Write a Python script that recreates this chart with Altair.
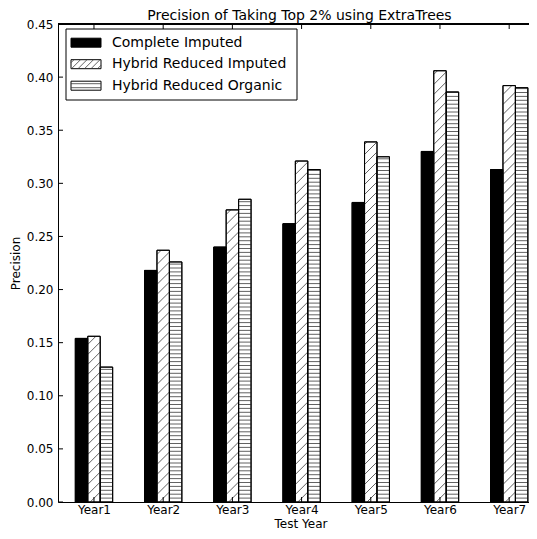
import json
import altair as alt
import pandas as pd

# ---------------- data ----------------
categories = ["Year1", "Year2", "Year3", "Year4", "Year5", "Year6", "Year7"]
series = ["Complete Imputed", "Hybrid Reduced Imputed", "Hybrid Reduced Organic"]
complete_imputed = [0.154, 0.218, 0.240, 0.262, 0.282, 0.330, 0.313]
hybrid_reduced_imputed = [0.156, 0.237, 0.275, 0.321, 0.339, 0.406, 0.392]
hybrid_reduced_organic = [0.127, 0.226, 0.285, 0.313, 0.325, 0.386, 0.390]
y_ticks = [0.00, 0.05, 0.10, 0.15, 0.20, 0.25, 0.30, 0.35, 0.40, 0.45]
title_text = "Precision of Taking Top 2% using ExtraTrees"

# ---------------- layout / style ----------------
FONT = "DejaVu Sans"
W, H = 471, 478
PAD = {"left": 50, "top": 16, "right": 0, "bottom": 29}
BAR_W = 0.18
PX_X = 69.2
X_DOMAIN = [-0.52, -0.52 + W / PX_X]
Y_DOMAIN = [0.0, 0.45]
PX_Y = H / (Y_DOMAIN[1] - Y_DOMAIN[0])
H_STEP = 3.9 / PX_Y            # horizontal hatch spacing (y units)
D_STEP = 10.0 / PX_Y           # diagonal hatch spacing (y units)
D_RISE = BAR_W * PX_X / PX_Y   # 45 degree rise across a bar (y units)
HATCH_COLOR = "#3a3a3a"
AXES_CENTER = 242.5            # centre of the (wider, cropped) original axes, px

rows = []
for g, cat in enumerate(categories):
    for k, vals in enumerate([complete_imputed, hybrid_reduced_imputed, hybrid_reduced_organic]):
        rows.append({"year": cat, "g": g, "k": k, "series": series[k], "value": vals[g]})
df = pd.DataFrame(rows)

xs = alt.Scale(domain=X_DOMAIN, nice=False, zero=False)
ys = alt.Scale(domain=Y_DOMAIN, nice=False, zero=False)
fill_scale = alt.Scale(domain=series, range=["black", "white", "white"])

label_expr = f"{json.dumps(categories)}[datum.value]"
AX_X = alt.Axis(values=list(range(len(categories))), labelExpr=label_expr, ticks=False,
                domainColor="black", grid=False, title="Test Year", labelFlush=False,
                labelPadding=2, titlePadding=3, titleX=AXES_CENTER)
AX_Y = alt.Axis(values=y_ticks, format=".2f", ticks=False, domainColor="black", grid=False,
                title="Precision", labelPadding=5, titlePadding=4, labelOverlap=False)


def X(f):
    return alt.X(f, scale=xs, axis=AX_X)


def Y(f):
    return alt.Y(f, scale=ys, axis=AX_Y)


base = alt.Chart(df).transform_calculate(
    xl=f"datum.g + (datum.k - 1.5) * {BAR_W}",
    xr=f"datum.g + (datum.k - 0.5) * {BAR_W}",
)

bars = base.mark_rect(stroke="black", strokeWidth=1).encode(
    x=X("xl:Q"), x2="xr:Q", y=Y("value:Q"), y2=alt.datum(0),
    fill=alt.Fill("series:N", scale=fill_scale, legend=None),
)

hhatch = base.transform_filter("datum.k == 2").transform_calculate(
    hy=f"sequence({H_STEP}, datum.value, {H_STEP})"
).transform_flatten(["hy"]).mark_rule(stroke=HATCH_COLOR, strokeWidth=0.8).encode(
    x=X("xl:Q"), x2="xr:Q", y=Y("hy:Q"),
)

dhatch = base.transform_filter("datum.k == 1").transform_calculate(
    y0=f"sequence({-D_RISE}, datum.value, {D_STEP})"
).transform_flatten(["y0"]).transform_calculate(
    ya="max(datum.y0, 0)",
    yb=f"min(datum.y0 + {D_RISE}, datum.value)",
).transform_calculate(
    xa=f"datum.xl + (datum.ya - datum.y0) / {D_RISE} * {BAR_W}",
    xb=f"datum.xl + (datum.yb - datum.y0) / {D_RISE} * {BAR_W}",
).transform_filter("datum.yb > datum.ya").mark_rule(
    stroke=HATCH_COLOR, strokeWidth=0.8
).encode(
    x=X("xa:Q"), x2="xb:Q", y=Y("ya:Q"), y2="yb:Q",
)

outline = base.mark_rect(stroke="black", strokeWidth=1, fillOpacity=0).encode(
    x=X("xl:Q"), x2="xr:Q", y=Y("value:Q"), y2=alt.datum(0),
)

ytick_df = pd.DataFrame({"v": y_ticks})
ytick_marks = alt.Chart(ytick_df).mark_rule(color="black", strokeWidth=1).encode(
    y=Y("v:Q"), x=alt.value(0), x2=alt.value(5)
)
xtick_df = pd.DataFrame({"g": list(range(len(categories)))})
xtick_top = alt.Chart(xtick_df).mark_rule(color="black", strokeWidth=1).encode(
    x=X("g:Q"), y=alt.value(0), y2=alt.value(5)
)
xtick_bottom = alt.Chart(xtick_df).mark_rule(color="black", strokeWidth=1).encode(
    x=X("g:Q"), y=alt.value(H), y2=alt.value(H - 5)
)
top_frame = alt.Chart(xtick_df).mark_rule(color="black", strokeWidth=1).encode(
    x=alt.value(0), x2=alt.value(W), y=alt.value(0)
)

# ---------------- legend (drawn with marks, positions in pixels -> data units) ----------------
LEG_BOX = (8, 239, 5, 76)
LEG_Y0, LEG_DY = 18.7, 21.5
SYM_X0, SYM_X1, SYM_HALF = 13, 43, 4.5
TXT_X = 54
X0, Y1 = X_DOMAIN[0], Y_DOMAIN[1]


def px2x(expr):
    return f"{X0} + ({expr}) / {PX_X}"


def py2y(expr):
    return f"{Y1} - ({expr}) / {PX_Y}"


leg_df = pd.DataFrame({"series": series, "i": list(range(len(series)))})
leg_base = alt.Chart(leg_df).transform_calculate(
    cyp=f"{LEG_Y0} + datum.i * {LEG_DY}",
).transform_calculate(
    stp=f"datum.cyp - {SYM_HALF}",
    sbp=f"datum.cyp + {SYM_HALF}",
).transform_calculate(
    cy=py2y("datum.cyp"),
    st=py2y("datum.stp"),
    sb=py2y("datum.sbp"),
    sx0=px2x(f"{SYM_X0}"),
    sx1=px2x(f"{SYM_X1}"),
)

leg_box = alt.Chart(xtick_df).transform_filter("datum.g == 0").mark_rect(
    fill="white", stroke="black", strokeWidth=1
).encode(
    x=alt.value(LEG_BOX[0]), x2=alt.value(LEG_BOX[1]),
    y=alt.value(LEG_BOX[2]), y2=alt.value(LEG_BOX[3]),
)

leg_sym = leg_base.mark_rect(stroke="black", strokeWidth=1).encode(
    x=X("sx0:Q"), x2="sx1:Q", y=Y("st:Q"), y2="sb:Q",
    fill=alt.Fill("series:N", scale=fill_scale, legend=None),
)

leg_hh = leg_base.transform_filter("datum.i == 2").transform_calculate(
    hyp="[datum.cyp - 2, datum.cyp + 2]"
).transform_flatten(["hyp"]).transform_calculate(
    hy=py2y("datum.hyp")
).mark_rule(stroke=HATCH_COLOR, strokeWidth=0.8).encode(
    x=X("sx0:Q"), x2="sx1:Q", y=Y("hy:Q"),
)

SPAN = 2 * SYM_HALF
leg_dh = leg_base.transform_filter("datum.i == 1").transform_calculate(
    s=f"sequence({SYM_X0 - SPAN + 3}, {SYM_X1}, 6.5)"
).transform_flatten(["s"]).transform_calculate(
    xap=f"max(datum.s, {SYM_X0})",
    xbp=f"min(datum.s + {SPAN}, {SYM_X1})",
).transform_calculate(
    yap="datum.sbp - (datum.xap - datum.s)",
    ybp="datum.sbp - (datum.xbp - datum.s)",
).transform_filter("datum.xbp > datum.xap").transform_calculate(
    xa=px2x("datum.xap"), xb=px2x("datum.xbp"),
    ya=py2y("datum.yap"), yb=py2y("datum.ybp"),
).mark_rule(stroke=HATCH_COLOR, strokeWidth=0.8).encode(
    x=X("xa:Q"), x2="xb:Q", y=Y("ya:Q"), y2="yb:Q",
)

leg_txt = leg_base.mark_text(
    align="left", baseline="middle", fontSize=14, font=FONT, color="black"
).encode(
    x=alt.value(TXT_X), y=Y("cy:Q"), text="series:N",
)

chart = alt.layer(
    bars, hhatch, dhatch, outline, ytick_marks, xtick_top, xtick_bottom, top_frame,
    leg_box, leg_sym, leg_hh, leg_dh, leg_txt,
).properties(
    width=W,
    height=H,
    title=alt.Title(title_text, fontSize=14, font=FONT, fontWeight="normal",
                    color="black", anchor="middle", frame="group", dx=6, dy=8.5, offset=4),
    autosize=alt.AutoSizeParams(type="none"),
    padding=PAD,
).configure_view(stroke=None).configure_axis(
    labelFont=FONT, titleFont=FONT, labelFontSize=12, titleFontSize=12,
    labelColor="black", titleColor="black", titleFontWeight="normal",
    domainColor="black", domainWidth=1,
)

chart.save("out.html", embed_options={"renderer": "svg", "actions": False})
